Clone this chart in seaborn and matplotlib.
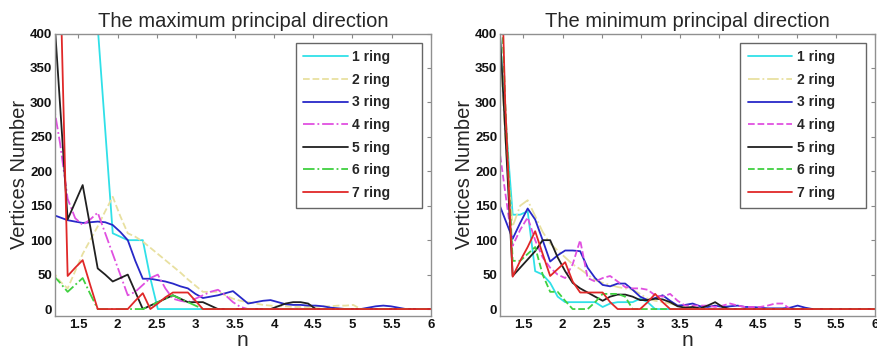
import numpy as np
import pandas as pd
import matplotlib
matplotlib.use('Agg')
import matplotlib.pyplot as plt
import seaborn as sns
from matplotlib.ticker import FormatStrFormatter

# n values (bin positions) shared by every curve
n_grid = [1.17, 1.266, 1.362, 1.458, 1.554, 1.65, 1.746, 1.842, 1.938, 2.034,
          2.13, 2.226, 2.322, 2.418, 2.514, 2.61, 2.706, 2.802, 2.898, 2.994,
          3.09, 3.186, 3.282, 3.378, 3.474, 3.57, 3.666, 3.762, 3.858, 3.954,
          4.05, 4.146, 4.242, 4.338, 4.434, 4.53, 4.626, 4.722, 4.818, 4.914,
          5.01, 5.106, 5.202, 5.298, 5.394, 5.49, 5.586, 5.682, 5.778, 5.874,
          5.97, 6.066]

ring_labels = ['1 ring', '2 ring', '3 ring', '4 ring', '5 ring', '6 ring', '7 ring']

# The maximum principal direction
max_1ring = [950, 900, 820, 720, 600, 500, 410, 260, 110, 105, 100, 100, 100, 45, 0, 0,
             0, 0, 0, 0, 0, 0, 0, 0, 0, 0, 0, 0, 0, 0, 0, 0, 0, 0, 0, 0,
             0, 0, 0, 0, 0, 0, 0, 0, 0, 0, 0, 0, 0, 0, 0, 0]
max_2ring = [55, 40, 30, 55, 80, 100, 120, 142, 163, 135, 110, 105, 98, 89, 80, 71,
             62, 53, 43, 34, 25, 25, 25, 20, 15, 12, 10, 8, 6, 5, 4, 4, 3, 3, 3, 3,
             4, 4, 5, 5, 6, 0, 0, 0, 0, 0, 0, 0, 0, 0, 0, 0]
max_3ring = [137, 133, 129, 127, 125, 126, 127, 126, 122, 112, 100, 70, 44, 44, 42, 40,
             37, 33, 30, 22, 16, 18, 20, 23, 26, 17, 8, 10, 12, 13, 10, 7, 6, 6, 5, 5,
             4, 2, 1, 0, 0, 0, 2, 4, 5, 4, 2, 0, 0, 0, 0, 0]
max_4ring = [305, 240, 160, 132, 122, 130, 140, 110, 80, 50, 20, 25, 35, 45, 50, 30,
             15, 12, 10, 15, 20, 25, 28, 20, 10, 3, 0, 0, 0, 0, 0, 0, 0, 0, 0, 0,
             0, 0, 0, 0, 0, 0, 0, 0, 0, 0, 0, 0, 0, 0, 0, 0]
max_5ring = [460, 295, 130, 155, 180, 120, 59, 50, 40, 45, 50, 25, 0, 5, 10, 15,
             20, 15, 10, 10, 10, 5, 0, 0, 0, 0, 0, 0, 0, 0, 4, 8, 10, 10, 8, 0,
             0, 0, 0, 0, 0, 0, 0, 0, 0, 0, 0, 0, 0, 0, 0, 0]
max_6ring = [50, 38, 25, 35, 45, 22, 0, 0, 0, 0, 0, 0, 0, 5, 10, 15,
             20, 15, 10, 5, 0, 0, 0, 0, 0, 0, 0, 0, 0, 0, 0, 0, 0, 0, 0, 0,
             0, 0, 0, 0, 0, 0, 0, 0, 0, 0, 0, 0, 0, 0, 0, 0]
max_7ring = [950, 490, 48, 60, 71, 35, 0, 0, 0, 0, 0, 12, 23, 0, 8, 17,
             24, 24, 24, 12, 0, 0, 0, 0, 0, 0, 0, 0, 0, 0, 0, 0, 0, 0, 0, 0,
             0, 0, 0, 0, 0, 0, 0, 0, 0, 0, 0, 0, 0, 0, 0, 0]

# The minimum principal direction
min_1ring = [450, 280, 137, 137, 142, 55, 50, 38, 18, 10, 10, 10, 10, 10, 3, 8,
             10, 10, 10, 15, 10, 0, 0, 0, 0, 0, 0, 0, 0, 0, 0, 0, 0, 0, 0, 0,
             0, 0, 0, 0, 0, 0, 0, 0, 0, 0, 0, 0, 0, 0, 0, 0]
min_2ring = [450, 250, 120, 150, 158, 135, 112, 95, 85, 75, 65, 58, 50, 42, 38, 35,
             32, 30, 28, 22, 15, 12, 10, 8, 5, 3, 0, 0, 0, 0, 0, 0, 0, 0, 0, 0,
             0, 0, 0, 0, 0, 0, 0, 0, 0, 0, 0, 0, 0, 0, 0, 0]
min_3ring = [158, 130, 102, 125, 146, 130, 100, 69, 78, 85, 85, 84, 60, 45, 35, 33,
             37, 37, 28, 18, 13, 16, 20, 12, 5, 6, 8, 4, 3, 5, 3, 4, 5, 3, 3, 2,
             1, 1, 1, 2, 5, 2, 0, 0, 0, 0, 0, 0, 0, 0, 0, 0]
min_4ring = [250, 170, 92, 115, 133, 100, 75, 60, 50, 45, 65, 100, 45, 40, 45, 48,
             40, 32, 30, 30, 28, 20, 18, 22, 12, 5, 5, 5, 5, 3, 5, 8, 5, 3, 3, 3,
             5, 8, 8, 0, 0, 0, 0, 0, 0, 0, 0, 0, 0, 0, 0, 0]
min_5ring = [460, 260, 48, 60, 72, 84, 100, 100, 75, 55, 38, 30, 24, 18, 12, 18,
             21, 21, 18, 13, 13, 15, 14, 10, 4, 2, 3, 1, 5, 10, 3, 0, 0, 0, 0, 0,
             0, 0, 0, 0, 0, 0, 0, 0, 0, 0, 0, 0, 0, 0, 0, 0]
min_6ring = [600, 300, 70, 70, 80, 90, 50, 25, 25, 12, 0, 0, 0, 10, 22, 22,
             22, 18, 0, 0, 0, 0, 0, 0, 0, 0, 0, 0, 0, 0, 0, 0, 0, 0, 0, 0,
             0, 0, 0, 0, 0, 0, 0, 0, 0, 0, 0, 0, 0, 0, 0, 0]
min_7ring = [700, 300, 47, 70, 90, 113, 80, 48, 58, 68, 40, 24, 24, 24, 24, 10,
             0, 0, 0, 0, 10, 22, 10, 0, 0, 0, 0, 0, 0, 0, 0, 0, 0, 0, 0, 0,
             0, 0, 0, 0, 0, 0, 0, 0, 0, 0, 0, 0, 0, 0, 0, 0]

ring_colors = ['#30E0E8', '#E8E0A0', '#2828C8', '#E050E0', '#202020', '#40D040', '#E02828']
max_styles = ['-', '--', '-', '-.', '-', '-.', '-']
min_styles = ['-', '-.', '-', '--', '-', '--', '-']

sns.set_style('white')
plt.rcParams['font.family'] = ['Liberation Sans', 'DejaVu Sans']

fig = plt.figure(figsize=(8.78, 3.53), dpi=100)
ax1 = fig.add_axes([0.0626, 0.105, 0.428, 0.80])
ax2 = fig.add_axes([0.5695, 0.105, 0.427, 0.80])

panels = [
    (ax1, 'The maximum principal direction',
     [max_1ring, max_2ring, max_3ring, max_4ring, max_5ring, max_6ring, max_7ring], max_styles),
    (ax2, 'The minimum principal direction',
     [min_1ring, min_2ring, min_3ring, min_4ring, min_5ring, min_6ring, min_7ring], min_styles),
]

for ax, title, series, styles in panels:
    for vals, label, color, ls in zip(series, ring_labels, ring_colors, styles):
        sns.lineplot(x=n_grid, y=vals, ax=ax, color=color, linestyle=ls,
                     linewidth=1.3, label=label)

    ax.set_xlim(1.2, 6)
    ax.set_ylim(-10, 400)
    ax.set_xticks([1.5, 2, 2.5, 3, 3.5, 4, 4.5, 5, 5.5, 6])
    ax.set_yticks([0, 50, 100, 150, 200, 250, 300, 350, 400])
    ax.xaxis.set_major_formatter(FormatStrFormatter('%g'))
    ax.tick_params(direction='in', top=True, right=True, length=3, width=0.8,
                   colors='#888888', labelcolor='#111111', labelsize=9.5, pad=2)
    for lab in ax.get_xticklabels() + ax.get_yticklabels():
        lab.set_fontweight('bold')
    for sp in ax.spines.values():
        sp.set_color('#909090')
        sp.set_linewidth(1.0)

    ax.set_title(title, fontsize=14.5, pad=5)
    ax.set_xlabel('n', fontsize=15, labelpad=0)
    ax.set_ylabel('Vertices Number', fontsize=14.5, labelpad=1)

    leg = ax.legend(loc='upper left', bbox_to_anchor=(0.641, 0.0, 0.335, 0.968),
                    mode='expand', borderaxespad=0, fancybox=False,
                    prop={'weight': 'bold', 'size': 10}, handlelength=3.2,
                    handletextpad=0.3, labelspacing=0.62, borderpad=0.55)
    leg.get_frame().set_edgecolor('#404040')
    leg.get_frame().set_linewidth(1.0)

fig.savefig('out.png', dpi=100)
